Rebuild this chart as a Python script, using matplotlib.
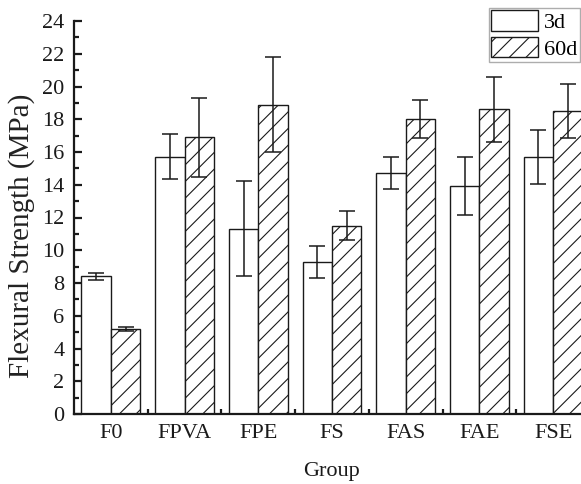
import matplotlib
matplotlib.use("Agg")
import matplotlib.pyplot as plt
import numpy as np
from matplotlib.ticker import MultipleLocator

plt.rcParams['font.family'] = ['Liberation Serif', 'DejaVu Serif']
plt.rcParams['hatch.color'] = '#959595'
plt.rcParams['hatch.linewidth'] = 0.8

groups = ["F0", "FPVA", "FPE", "FS", "FAS", "FAE", "FSE"]
val_3d = [8.4, 15.7, 11.3, 9.3, 14.7, 13.9, 15.7]
err_3d = [0.2, 1.37, 2.9, 0.98, 0.98, 1.77, 1.63]
val_60d = [5.2, 16.9, 18.9, 11.5, 18.0, 18.6, 18.5]
err_60d = [0.14, 2.4, 2.93, 0.9, 1.16, 2.0, 1.64]

W, H = 581, 484
fig = plt.figure(figsize=(W / 100, H / 100), dpi=100)
left_px, right_px, bottom_px, top_px = 74, 590, 414, 21
ax = fig.add_axes([left_px / W, (H - bottom_px) / H,
                   (right_px - left_px) / W, (bottom_px - top_px) / H])

x = np.arange(1, len(groups) + 1)
bw = 0.4
ekw = dict(elinewidth=1.1, capthick=1.1, ecolor='#1a1a1a')
b1 = ax.bar(x - bw / 2, val_3d, bw, color='white', edgecolor='#1a1a1a', linewidth=1.0,
            yerr=err_3d, capsize=5.5, error_kw=ekw, label='3d', zorder=2)
b2 = ax.bar(x + bw / 2, val_60d, bw, color='white', edgecolor='#1a1a1a', linewidth=1.0,
            hatch='//', yerr=err_60d, capsize=5.5, error_kw=ekw, label='60d', zorder=2)

ax.set_xlim(0.5, 7.5)
ax.set_ylim(0, 24)
ax.set_xticks(x)
ax.set_xticklabels(groups)
ax.set_xticks(x + 0.5, minor=True)
ax.yaxis.set_major_locator(MultipleLocator(2))
ax.yaxis.set_minor_locator(MultipleLocator(1))

for s in ['top', 'right']:
    ax.spines[s].set_visible(False)
for s in ['left', 'bottom']:
    ax.spines[s].set_linewidth(1.6)
    ax.spines[s].set_color('#1a1a1a')

ax.tick_params(axis='y', which='major', direction='in', length=6, width=1.6,
               labelsize=16, color='#1a1a1a', pad=7)
ax.tick_params(axis='x', which='major', direction='in', length=6, width=1.6,
               labelsize=16, color='#1a1a1a', pad=7)
ax.tick_params(axis='both', which='minor', direction='in', length=3.5, width=1.6,
               color='#1a1a1a')
for lab in ax.get_xticklabels() + ax.get_yticklabels():
    lab.set_color('#1a1a1a')

ax.set_ylabel('Flexural Strength (MPa)', fontsize=21, color='#222222')
ax.yaxis.set_label_coords((35 - left_px) / (right_px - left_px),
                          (bottom_px - 236) / (bottom_px - top_px))
ax.set_xlabel('Group', fontsize=16, labelpad=14, color='#1a1a1a')

leg = fig.legend(handles=[b1, b2], labels=['3d', '60d'],
                 loc='upper left', bbox_to_anchor=(489 / W, 1 - 8 / H),
                 fontsize=16, frameon=True, fancybox=False,
                 handlelength=2.1, handleheight=1.06, handletextpad=0.27,
                 borderpad=0.11, labelspacing=0.15, borderaxespad=0)
leg.get_frame().set_edgecolor('#999999')
leg.get_frame().set_linewidth(1.0)

fig.savefig('out.png', dpi=100)
